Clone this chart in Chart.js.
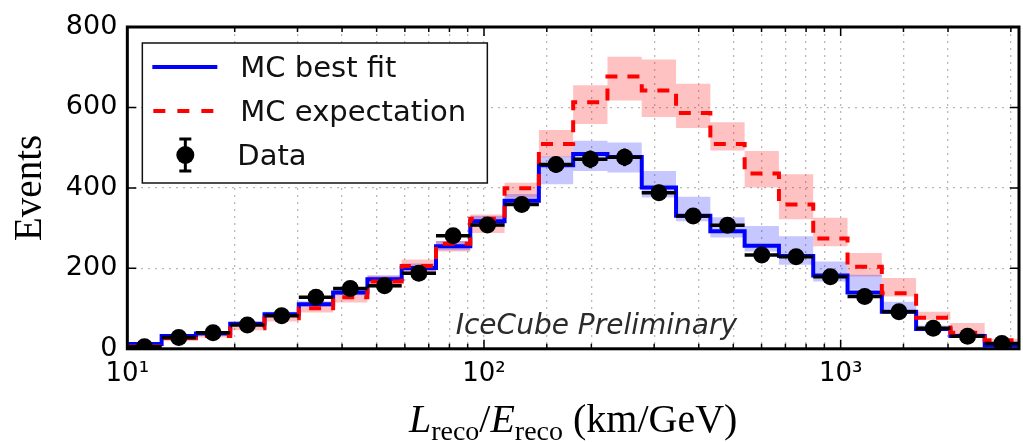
<!DOCTYPE html>
<html>
<head>
<meta charset="utf-8">
<title>L/E distribution</title>
<script src="https://cdn.jsdelivr.net/npm/chart.js@4.4.0/dist/chart.umd.min.js"></script>
<style>
  html, body { margin: 0; padding: 0; background: #fff; }
  #wrap { width: 1023px; height: 442px; }
</style>
</head>
<body>
<div id="wrap"><canvas id="leChart" width="1023" height="442"></canvas></div>
<script>
// 26 bins evenly spaced in log10(L/E) from 10 to 10^3.5 km/GeV
var logMin = 1, logMax = 3.5, nBins = 26;

// observed events per bin and their error bars
var dataCounts = [5, 28, 40, 59, 82, 128, 150, 157, 188, 281, 308, 359, 458, 471, 476, 388, 330, 307, 233, 229, 179, 130, 92, 51, 31, 13];
var dataErrors = [2, 5, 6, 8, 9, 11, 12, 13, 14, 17, 18, 19, 21, 22, 22, 20, 18, 18, 15, 15, 13, 11, 10, 7, 6, 4];

// MC at best-fit oscillation parameters, with systematic band
var bestFit   = [12, 32, 38, 62, 86, 111, 140, 173, 201, 255, 317, 368, 456, 484, 477, 401, 331, 292, 256, 231, 182, 140, 92, 49, 32, 8];
var bestFitLo = [9, 29, 35, 58, 81, 105, 133, 165, 192, 245, 303, 355, 409, 442, 438, 376, 317, 277, 242, 209, 167, 147, 90, 45, 29, 6];
var bestFitHi = [15, 36, 43, 67, 92, 118, 148, 182, 212, 268, 330, 385, 478, 517, 513, 442, 378, 327, 305, 280, 217, 184, 117, 58, 38, 11];

// MC expectation without oscillations, with systematic band
var expectation   = [6, 26, 32, 51, 76, 101, 128, 167, 206, 261, 323, 399, 509, 613, 677, 642, 586, 509, 436, 359, 274, 204, 138, 77, 40, 21];
var expectationLo = [3, 22, 28, 46, 68, 90, 115, 152, 190, 242, 288, 376, 476, 559, 617, 576, 549, 493, 401, 322, 255, 180, 130, 72, 34, 13];
var expectationHi = [9, 30, 37, 57, 84, 113, 142, 182, 222, 268, 334, 413, 544, 655, 726, 719, 659, 563, 492, 434, 326, 238, 176, 92, 64, 25];

var yTicks = [0, 200, 400, 600, 800];
var supDigits = ['\u2070', '\u00b9', '\u00b2', '\u00b3', '\u2074'];

var binEdges = [];
for (var k = 0; k <= nBins; k++) {
    binEdges.push(Math.pow(10, logMin + k * (logMax - logMin) / nBins));
}
var binCenters = [];
for (var k = 0; k < nBins; k++) {
    binCenters.push(Math.sqrt(binEdges[k] * binEdges[k + 1]));
}

// histogram outline: one point per left edge, plus the last right edge
function steps(values) {
    var pts = values.map(function (v, i) { return {x: binEdges[i], y: v}; });
    pts.push({x: binEdges[nBins], y: values[nBins - 1]});
    return pts;
}

function isDecade(v) {
    var e = Math.log10(v);
    return Math.abs(e - Math.round(e)) < 1e-6;
}

var serif = '"Liberation Serif", "DejaVu Serif", serif';
var sans = '"DejaVu Sans", sans-serif';

var framePlugin = {
    id: 'frame',
    afterDatasetsDraw: function (chart) {
        // bin-width bars and vertical error bars on the data points
        var ctx = chart.ctx, xs = chart.scales.x, ys = chart.scales.y;
        ctx.save();
        ctx.strokeStyle = '#000';
        ctx.lineCap = 'butt';
        for (var i = 0; i < nBins; i++) {
            var y = ys.getPixelForValue(dataCounts[i]);
            ctx.lineWidth = 3.5;
            ctx.beginPath();
            ctx.moveTo(xs.getPixelForValue(binEdges[i]), y);
            ctx.lineTo(xs.getPixelForValue(binEdges[i + 1]), y);
            ctx.stroke();
            var cx = xs.getPixelForValue(binCenters[i]);
            var y1 = ys.getPixelForValue(dataCounts[i] - dataErrors[i]);
            var y2 = ys.getPixelForValue(dataCounts[i] + dataErrors[i]);
            ctx.lineWidth = 3;
            ctx.beginPath();
            ctx.moveTo(cx, y1);
            ctx.lineTo(cx, y2);
            ctx.stroke();
        }
        ctx.restore();
    },
    afterDraw: function (chart) {
        var ctx = chart.ctx, a = chart.chartArea, xs = chart.scales.x, ys = chart.scales.y;
        ctx.save();

        // inward tick marks on all four sides
        ctx.strokeStyle = '#000';
        ctx.lineWidth = 1.5;
        xs.ticks.forEach(function (t) {
            var px = xs.getPixelForValue(t.value);
            if (px <= a.left + 2 || px >= a.right - 2) return;
            var len = isDecade(t.value) ? 9 : 5;
            ctx.beginPath();
            ctx.moveTo(px, a.bottom); ctx.lineTo(px, a.bottom - len);
            ctx.moveTo(px, a.top); ctx.lineTo(px, a.top + len);
            ctx.stroke();
        });
        yTicks.forEach(function (v) {
            var py = ys.getPixelForValue(v);
            if (py <= a.top + 2 || py >= a.bottom - 2) return;
            ctx.beginPath();
            ctx.moveTo(a.left, py); ctx.lineTo(a.left + 9, py);
            ctx.moveTo(a.right, py); ctx.lineTo(a.right - 9, py);
            ctx.stroke();
        });

        // axes frame
        ctx.lineWidth = 3;
        ctx.strokeRect(a.left, a.top, a.right - a.left, a.bottom - a.top);

        // watermark
        ctx.fillStyle = '#2b2b2b';
        ctx.font = 'italic 28px ' + sans;
        ctx.textAlign = 'center';
        ctx.textBaseline = 'alphabetic';
        ctx.fillText('IceCube Preliminary', a.left + 0.526 * (a.right - a.left), a.bottom - 15);

        // legend box
        var lx = a.left + 15, ly = a.top + 16, lw = 345, lh = 140;
        ctx.fillStyle = '#fff';
        ctx.fillRect(lx, ly, lw, lh);
        ctx.lineWidth = 1.5;
        ctx.strokeStyle = '#111';
        ctx.strokeRect(lx, ly, lw, lh);

        ctx.lineWidth = 4;
        ctx.strokeStyle = '#0000ff';
        ctx.beginPath();
        ctx.moveTo(lx + 10, ly + 24); ctx.lineTo(lx + 75, ly + 24);
        ctx.stroke();

        ctx.strokeStyle = '#ff0000';
        ctx.setLineDash([12, 12]);
        ctx.beginPath();
        ctx.moveTo(lx + 11, ly + 68); ctx.lineTo(lx + 75, ly + 68);
        ctx.stroke();
        ctx.setLineDash([]);

        var mx = lx + 43, my = ly + 112;
        ctx.strokeStyle = '#000';
        ctx.lineWidth = 3;
        ctx.beginPath();
        ctx.moveTo(mx, my - 16); ctx.lineTo(mx, my + 16);
        ctx.moveTo(mx - 6, my - 16); ctx.lineTo(mx + 6, my - 16);
        ctx.moveTo(mx - 6, my + 16); ctx.lineTo(mx + 6, my + 16);
        ctx.stroke();
        ctx.fillStyle = '#000';
        ctx.beginPath();
        ctx.arc(mx, my, 9, 0, 2 * Math.PI);
        ctx.fill();

        ctx.fillStyle = '#111';
        ctx.font = '29px ' + sans;
        ctx.textAlign = 'left';
        ctx.fillText('MC best fit', lx + 98, ly + 34);
        ctx.fillText('MC expectation', lx + 98, ly + 78);
        ctx.fillText('Data', lx + 95, ly + 122);

        // x-axis title with subscripts
        var parts = [
            {t: 'L', f: 'italic 40px ' + serif, dy: 0},
            {t: 'reco', f: '28px ' + serif, dy: 8},
            {t: '/', f: '40px ' + serif, dy: 0},
            {t: 'E', f: 'italic 40px ' + serif, dy: 0},
            {t: 'reco', f: '28px ' + serif, dy: 8},
            {t: ' (km/GeV)', f: '40px ' + serif, dy: 0}
        ];
        var total = 0;
        parts.forEach(function (p) { ctx.font = p.f; p.w = ctx.measureText(p.t).width; total += p.w; });
        var x = (a.left + a.right) / 2 - total / 2, base = 432;
        ctx.fillStyle = '#000';
        parts.forEach(function (p) {
            ctx.font = p.f;
            ctx.fillText(p.t, x, base + p.dy);
            x += p.w;
        });

        ctx.restore();
    }
};

var noBorder = 'rgba(0,0,0,0)';

new Chart(document.getElementById('leChart').getContext('2d'), {
    type: 'line',
    data: {
        datasets: [
            {
                label: 'expectation band',
                data: steps(expectationHi),
                stepped: true,
                borderColor: noBorder,
                borderWidth: 0,
                pointRadius: 0,
                backgroundColor: 'rgba(255,0,0,0.24)',
                fill: '+1',
                order: 6
            },
            {
                label: 'expectation band low',
                data: steps(expectationLo),
                stepped: true,
                borderColor: noBorder,
                borderWidth: 0,
                pointRadius: 0,
                fill: false,
                order: 6
            },
            {
                label: 'best fit band',
                data: steps(bestFitHi),
                stepped: true,
                borderColor: noBorder,
                borderWidth: 0,
                pointRadius: 0,
                backgroundColor: 'rgba(0,0,255,0.22)',
                fill: '+1',
                order: 5
            },
            {
                label: 'best fit band low',
                data: steps(bestFitLo),
                stepped: true,
                borderColor: noBorder,
                borderWidth: 0,
                pointRadius: 0,
                fill: false,
                order: 5
            },
            {
                label: 'MC best fit',
                data: steps(bestFit),
                stepped: true,
                borderColor: '#0000ff',
                borderWidth: 4,
                pointRadius: 0,
                fill: false,
                order: 3
            },
            {
                label: 'MC expectation',
                data: steps(expectation),
                stepped: true,
                borderColor: '#ff0000',
                borderWidth: 4,
                borderDash: [12, 10],
                pointRadius: 0,
                fill: false,
                order: 2
            },
            {
                label: 'Data',
                data: binCenters.map(function (c, i) { return {x: c, y: dataCounts[i]}; }),
                showLine: false,
                pointRadius: 8.5,
                pointBackgroundColor: '#000',
                pointBorderColor: '#000',
                pointBorderWidth: 0,
                order: 1
            }
        ]
    },
    options: {
        responsive: false,
        animation: false,
        events: [],
        layout: {
            autoPadding: false,
            padding: {left: 7, right: 4, top: 27, bottom: 42}
        },
        plugins: {
            legend: {display: false},
            tooltip: {enabled: false}
        },
        scales: {
            x: {
                type: 'logarithmic',
                min: Math.pow(10, logMin),
                max: Math.pow(10, logMax),
                grid: {color: '#b8b8b8', lineWidth: 1.3, drawTicks: false},
                border: {display: false, dash: [2, 5]},
                afterFit: function (scale) {
                    // the last tick has no label, so no room is needed past the right edge
                    scale.paddingRight = 0;
                },
                ticks: {
                    autoSkip: false,
                    maxRotation: 0,
                    padding: 10,
                    color: '#000',
                    font: {family: 'DejaVu Sans', size: 26},
                    callback: function (value) {
                        if (!isDecade(value)) return '';
                        return '10' + supDigits[Math.round(Math.log10(value))];
                    }
                }
            },
            y: {
                min: 0,
                max: 800,
                grid: {color: '#b8b8b8', lineWidth: 1.3, drawTicks: false},
                border: {display: false, dash: [2, 5]},
                ticks: {
                    stepSize: 200,
                    padding: 10,
                    color: '#000',
                    font: {family: 'DejaVu Sans', size: 27}
                },
                title: {
                    display: true,
                    text: 'Events',
                    color: '#000',
                    font: {family: 'Liberation Serif', size: 39},
                    padding: {top: 0, bottom: 2}
                }
            }
        }
    },
    plugins: [framePlugin]
});
</script>
</body>
</html>
